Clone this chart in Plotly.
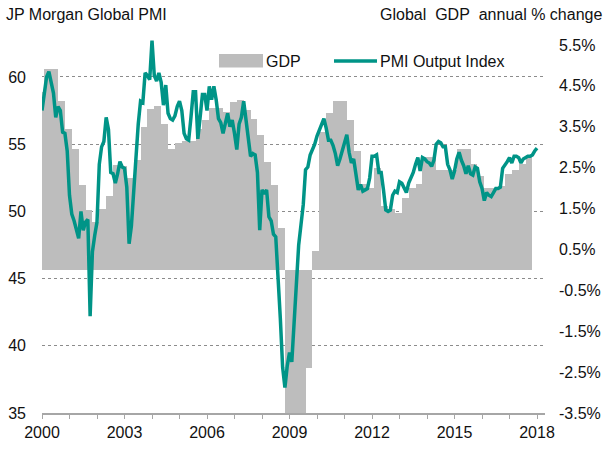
import plotly.graph_objects as go

# GDP, quarterly (first value = 1999 Q4, last = 2017 Q3), annual % change
gdp_start_year = 1999.75
gdp = [4.34,
       4.91, 4.91, 4.14, 3.45,
       2.96, 2.08, 1.47, 1.16,
       1.50, 1.81, 2.57, 2.55,
       2.25, 2.69, 3.50, 3.94,
       4.00, 3.57, 2.95, 3.10,
       3.15, 3.15, 3.45, 3.67,
       3.95, 3.95, 3.87, 4.10,
       4.15, 3.90, 3.70, 3.30,
       2.65, 2.08, 1.03, -4.0,
       -4.5, -4.0, -2.40, 0.45,
       3.38, 3.84, 4.14, 4.14,
       3.67, 2.90, 2.10, 2.00,
       2.50, 1.55, 1.50, 1.40,
       1.75, 2.00, 2.10, 2.75,
       2.75, 2.45, 2.45, 2.45,
       2.95, 2.95, 2.60, 2.30,
       2.00, 2.00, 2.05, 2.35,
       2.45, 2.60, 2.80]

# PMI Output Index, monthly from Jan 2000 to Jan 2018
pmi = [57.5, 58.8, 60.0, 60.4, 59.6, 58.8, 57.0, 57.8, 57.5, 55.9, 55.8, 54.5,
       51.2, 49.8, 49.3, 48.5, 48.0, 50.0, 48.6, 49.2, 49.4, 42.2, 47.0, 48.2,
       49.2, 53.5, 54.8, 55.2, 57.0, 56.1, 52.9, 52.8, 52.1, 52.8, 53.7, 53.3,
       53.2, 51.8, 47.6, 48.9, 51.5, 54.5, 56.5, 58.2, 58.1, 60.3, 60.1, 59.8,
       62.7, 60.1, 59.7, 60.3, 59.6, 57.9, 59.4, 57.3, 56.9, 56.8, 57.1, 57.8,
       58.2, 57.5, 55.8, 55.4, 55.3, 57.0, 58.9, 58.9, 55.4, 57.0, 58.7, 58.7,
       57.5, 59.3, 58.3, 59.3, 58.3, 56.9, 56.6, 55.8, 56.5, 57.3, 56.3, 56.8,
       55.8, 54.6, 56.5, 57.0, 58.2, 56.8, 55.6, 54.1, 54.3, 54.2, 52.9, 48.6,
       51.6, 51.3, 51.6, 49.6, 49.3, 48.3, 48.1, 45.5, 42.0, 38.4, 36.9, 38.5,
       39.5, 38.8, 41.5, 44.3, 47.5, 49.0, 50.5, 53.1, 53.3, 54.2, 54.6, 55.0,
       55.6, 56.0, 56.4, 56.9, 56.2, 55.3, 55.3, 54.9, 54.3, 53.4, 53.9, 54.5,
       55.0, 55.7, 54.4, 53.6, 53.9, 52.6, 51.6, 52.0, 51.5, 51.6, 51.7, 52.5,
       54.1, 54.1, 54.2, 52.9, 52.9, 51.6, 50.1, 50.0, 50.1, 51.2, 51.5, 51.4,
       52.2, 52.1, 51.8, 51.4, 52.1, 52.5, 52.9, 53.5, 54.0, 53.0, 54.0, 53.9,
       53.7, 53.6, 53.35, 53.8, 55.0, 55.2, 55.1, 54.8, 54.8, 53.5, 53.1, 52.4,
       53.0, 53.9, 54.4, 53.8, 53.4, 52.8, 53.4, 52.8, 52.7, 53.3, 53.2, 52.2,
       51.7, 50.8, 51.4, 51.2, 51.1, 51.4, 51.7, 51.7, 51.8, 53.2, 53.4, 53.7,
       54.0, 53.6, 54.1, 54.1, 54.0, 53.6, 53.9, 54.0, 54.1, 54.1, 54.2, 54.5,
       54.7]

year_ticks = [2000, 2003, 2006, 2009, 2012, 2015, 2018]
pmi_ticks = [35, 40, 45, 50, 55, 60]
gdp_ticks = [-3.5, -2.5, -1.5, -0.5, 0.5, 1.5, 2.5, 3.5, 4.5, 5.5]

pmi_x = [2000 + m / 12 for m in range(len(pmi))]
# quarterly bars drawn one month after quarter start (as in source chart)
gdp_x = [gdp_start_year + (3 * i + 2.5) / 12 for i in range(len(gdp))]

FONT = "Liberation Sans, Arial, sans-serif"
TEAL = "#009487"
GREY = "#BDBDBD"

# plot area in pixels
L, R, T, B = 42, 545, 38, 413
W, H = R - L, B - T


def px(x):
    return (x - L) / W


def py(y):
    return (B - y) / H


fig = go.Figure()
fig.add_trace(go.Bar(x=gdp_x, y=gdp, width=0.25, base=0, yaxis="y",
                     marker=dict(color=GREY, line=dict(width=0)),
                     showlegend=False, name="GDP"))
fig.add_trace(go.Scatter(x=pmi_x, y=pmi, mode="lines", name="PMI Output Index",
                         yaxis="y2", showlegend=False,
                         line=dict(color=TEAL, width=3.5)))

legend_y = py(61)
shapes = [
    dict(type="rect", xref="paper", yref="paper", x0=px(219), x1=px(263),
         y0=py(67.5), y1=py(54), fillcolor=GREY, line=dict(width=0)),
    dict(type="line", xref="paper", yref="paper", x0=px(334), x1=px(377),
         y0=legend_y, y1=legend_y, line=dict(color=TEAL, width=3.5)),
]

fig.update_layout(
    width=616, height=451,
    margin=dict(l=L, r=616 - R, t=T, b=451 - B, autoexpand=False),
    paper_bgcolor="white", plot_bgcolor="white",
    font=dict(family=FONT, size=16, color="#111"),
    bargap=0,
    showlegend=False,
    xaxis=dict(range=[2000, 2018.29], tickvals=year_ticks,
               ticktext=[str(v) for v in year_ticks], automargin=False,
               ticks="outside", ticklen=4, tickcolor="#A6A6A6", tickwidth=1,
               minor=dict(dtick=1, tick0=2000, ticks="outside", ticklen=4,
                          tickcolor="#A6A6A6", showgrid=False),
               showline=True, linecolor="#A6A6A6", linewidth=1.5,
               showgrid=False, zeroline=False),
    yaxis=dict(range=[-3.5, 5.67], tickvals=gdp_ticks, automargin=False,
               ticktext=[f"{v:.1f}%" for v in gdp_ticks],
               side="right", showgrid=False, zeroline=False,
               showline=False, ticks="", ticklabelstandoff=13),
    yaxis2=dict(range=[35, 62.9], tickvals=pmi_ticks, overlaying="y", side="left",
                automargin=False,
                showgrid=True, gridcolor="#8C8C8C", griddash="dot", gridwidth=0.8,
                zeroline=False, showline=False, ticks="", ticklabelstandoff=15),
    shapes=shapes,
    annotations=[
        dict(text="JP Morgan Global PMI", xref="paper", yref="paper",
             x=px(4), y=py(14.5), xanchor="left", yanchor="middle",
             showarrow=False, font=dict(size=16)),
        dict(text="Global\u00a0 GDP\u00a0 annual % change", xref="paper",
             yref="paper", x=px(604), y=py(14.5), xanchor="right", yanchor="middle",
             showarrow=False, font=dict(size=16)),
        dict(text="GDP", xref="paper", yref="paper", x=px(264), y=legend_y,
             xanchor="left", yanchor="middle", showarrow=False, font=dict(size=16)),
        dict(text="PMI Output Index", xref="paper", yref="paper", x=px(378),
             y=legend_y, xanchor="left", yanchor="middle", showarrow=False,
             font=dict(size=16)),
    ],
)

fig.write_html("out.html", config={"displayModeBar": False},
               post_script="document.body.style.margin='0px';")
